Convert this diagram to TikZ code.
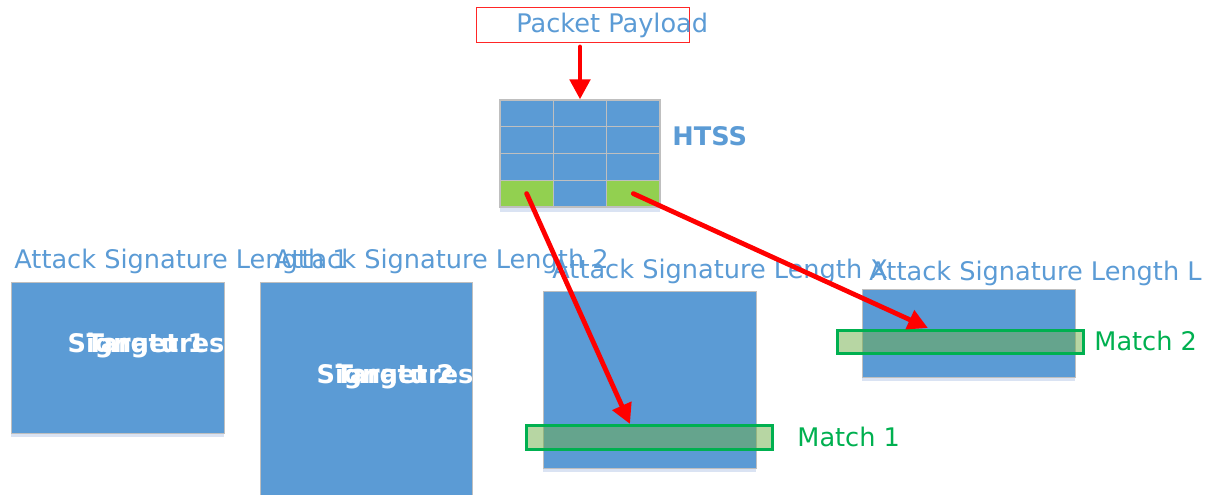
\documentclass[tikz,border=0pt]{standalone}
\usepackage{fontspec}
\setmainfont{DejaVu Sans}
\usepackage{xcolor}
\usetikzlibrary{arrows.meta,positioning}

\definecolor{sigblue}{HTML}{5B9BD5}
\definecolor{hitgreen}{HTML}{92D050}
\definecolor{matchgreen}{HTML}{00B050}
\definecolor{matchfill}{HTML}{70AD47}
\definecolor{shadowblue}{HTML}{DAE3F3}
\definecolor{edgegray}{HTML}{BFBFBF}

\tikzset{
  lbl/.style={font=\fontsize{12.8}{15}\selectfont, inner sep=0pt, anchor=base west},
  boldlbl/.style={lbl, font=\fontsize{12.8}{15}\selectfont\bfseries},
  title/.style={lbl, text=sigblue},
  sigbox/.style={draw=edgegray, line width=0.5pt, fill=sigblue, inner sep=0pt, minimum width=106.5pt},
  cell/.style={draw=edgegray, line width=0.6pt, fill=sigblue, inner sep=0pt,
    minimum width=26.67pt, minimum height=13.375pt},
  matchbox/.style={draw=matchgreen, line width=1.5pt, fill=matchfill, fill opacity=0.5,
    inner sep=0pt, minimum width=123pt},
  hit/.style={red, line width=2.4pt, line cap=round, -{Triangle[length=10pt,width=10pt]}}
}

\begin{document}
\begin{tikzpicture}[x=0.5pt,y=-0.5pt]
\useasboundingbox (0,0) rectangle (1209,494);

% packet payload
\node [draw=red!85, line width=0.5pt, minimum width=106.5pt, minimum height=17.5pt, inner sep=0pt] (pbox) at (582.5,25) {};
\node [title] (ptext) at (516,32) {Packet Payload};

% HTSS table
\fill [shadowblue] (500,207) rectangle (660,212);
\foreach \r in {1,2,3}
  \foreach \c in {1,2,3}
    \node [cell] (c\r\c) at ({500+53.33*(\c-0.5)},{100+26.75*(\r-0.5)}) {};
\foreach \c/\col in {1/hitgreen,2/sigblue,3/hitgreen}
  \node [cell, fill=\col] (c4\c) at ({500+53.33*(\c-0.5)},{100+26.75*3.5}) {};
\node [boldlbl, text=sigblue] (htss) at (672,145) {HTSS};

% signature sets
\fill [shadowblue] (11,433) rectangle (224,437);
\fill [shadowblue] (543,468) rectangle (756,472);
\fill [shadowblue] (862,377) rectangle (1075,381);
\node [sigbox, minimum height=75.5pt] (b1) at (117.5,357.5) {};
\node [sigbox, minimum height=109pt, minimum width=106pt] (b2) at (366,391) {};
\node [sigbox, minimum height=88.5pt] (bx) at (649.5,379.5) {};
\node [sigbox, minimum height=44pt] (bl) at (968.5,333) {};

\node [title] (tt1) at (14,268) {Attack Signature Length 1};
\node [title] (tt2) at (274,268) {Attack Signature Length 2};
\node [title] (ttx) at (552,278) {Attack Signature Length X};
\node [title] (ttl) at (869,280) {Attack Signature Length L};

\node [boldlbl, text=white, anchor=base] (s1) at (146,352) {Signatures};
\node [boldlbl, text=white, anchor=base] (g1) at (146,352) {Target 1};
\node [boldlbl, text=white, anchor=base] (s2) at (395,383) {Signatures};
\node [boldlbl, text=white, anchor=base] (g2) at (395,383) {Target 2};

% matches
\node [matchbox, minimum height=12pt] (m1) at (649.5,437.5) {};
\node [matchbox, minimum height=11.5pt] (m2) at (960.5,342) {};
\node [lbl, text=matchgreen] (ml1) at (797,446) {Match 1};
\node [lbl, text=matchgreen] (ml2) at (1094,350) {Match 2};

% lookups
\coordinate (tip1) at (630,424);
\coordinate (tip2) at (928,328);
\draw [hit] ([yshift=-2pt]pbox.south -| c12) -- (c12.north);
\draw [hit] (c41.center) -- (tip1);
\draw [hit] (c43.center) -- (tip2);
\end{tikzpicture}
\end{document}
